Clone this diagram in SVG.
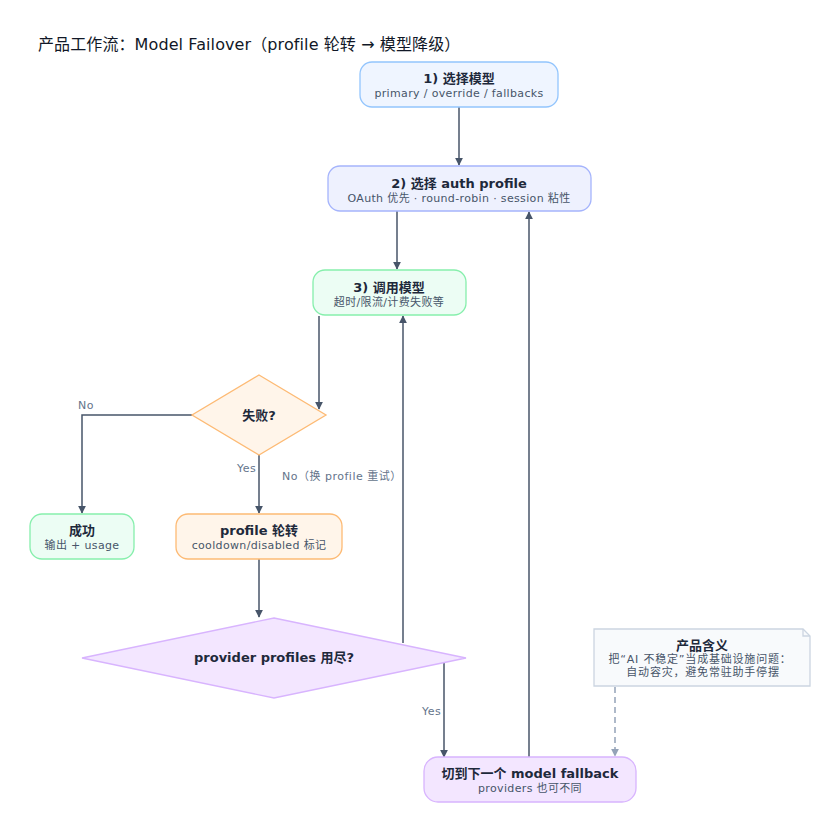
<svg xmlns="http://www.w3.org/2000/svg" width="840" height="832" viewBox="0 0 840 832">
<defs>
<style>
text{font-family:"DejaVu Sans","Noto Sans CJK SC",sans-serif;}
.t{font-size:13px;font-weight:bold;fill:#1e293b;text-anchor:middle;}
.s{font-size:11px;fill:#475569;text-anchor:middle;letter-spacing:0.35px;}
.lb{font-size:11px;fill:#64748b;letter-spacing:0.5px;}
.ns{letter-spacing:0.8px;}
.c{fill:none;stroke:#475569;stroke-width:1.5;}
.d{fill:none;stroke:#94a3b8;stroke-width:1.5;stroke-dasharray:6 4;}
.blue{fill:#eff5ff;stroke:#93c5fd;stroke-width:1.3;}
.indigo{fill:#eef1fe;stroke:#a5b4fc;stroke-width:1.3;}
.green{fill:#ecfdf4;stroke:#86efac;stroke-width:1.3;}
.orange{fill:#fff5ea;stroke:#fdba74;stroke-width:1.3;}
.purple{fill:#f3e6ff;stroke:#d8b4fe;stroke-width:1.3;}
.note{fill:#f8fafc;stroke:#cbd5e1;stroke-width:1.3;}
</style>
<marker id="a" viewBox="0 0 10 10" refX="9" refY="5" markerWidth="8" markerHeight="8" markerUnits="userSpaceOnUse" orient="auto"><path d="M0,0 L10,5 L0,10 z" fill="#475569"/></marker>
<marker id="ag" viewBox="0 0 10 10" refX="9" refY="5" markerWidth="8" markerHeight="8" markerUnits="userSpaceOnUse" orient="auto"><path d="M0,0 L10,5 L0,10 z" fill="#94a3b8"/></marker>
</defs>
<rect width="840" height="832" fill="#ffffff"/>
<text x="38" y="50" style="font-size:16px;fill:#111827;letter-spacing:0.1px">产品工作流：Model Failover（profile 轮转 → 模型降级）</text>

<g id="connectors">
<path class="c" d="M459,107 V165" marker-end="url(#a)"/>
<path class="c" d="M397,211 V269" marker-end="url(#a)"/>
<path class="c" d="M319,316 V409" marker-end="url(#a)"/>
<path class="c" d="M192,415 H82 V513" marker-end="url(#a)"/>
<text class="lb" x="78" y="409">No</text>
<path class="c" d="M259,455 V513" marker-end="url(#a)"/>
<text class="lb" x="237" y="472">Yes</text>
<path class="c" d="M403,643 V316" marker-end="url(#a)"/>
<text class="lb" x="282" y="480">No（换 profile 重试）</text>
<path class="c" d="M259,559 V617" marker-end="url(#a)"/>
<path class="c" d="M444,663 V757" marker-end="url(#a)"/>
<text class="lb" x="422" y="715">Yes</text>
<path class="c" d="M529,757 V212" marker-end="url(#a)"/>
<path class="d" d="M615,687 V756" marker-end="url(#ag)"/>
</g>

<g id="n1">
<rect class="blue" x="360" y="62" width="198" height="45" rx="12"/>
<text class="t" x="459" y="83">1) 选择模型</text>
<text class="s" x="459" y="97">primary / override / fallbacks</text>
</g>
<g id="n2">
<rect class="indigo" x="328" y="166" width="263" height="45" rx="12"/>
<text class="t" x="459" y="188">2) 选择 auth profile</text>
<text class="s" x="459" y="202">OAuth 优先 · round-robin · session 粘性</text>
</g>
<g id="n3">
<rect class="green" x="313" y="270" width="153" height="45" rx="12"/>
<text class="t" x="389" y="292">3) 调用模型</text>
<text class="s" x="389" y="306">超时/限流/计费失败等</text>
</g>
<g id="fail">
<polygon class="orange" points="259,375 326,415 259,455 192,415"/>
<text class="t" x="259" y="420">失败?</text>
</g>
<g id="ok">
<rect class="green" x="30" y="514" width="104" height="45" rx="12"/>
<text class="t" x="82" y="535">成功</text>
<text class="s" x="82" y="549">输出 + usage</text>
</g>
<g id="rotate">
<rect class="orange" x="176" y="514" width="166" height="45" rx="12"/>
<text class="t" x="259" y="535">profile 轮转</text>
<text class="s" x="259" y="549">cooldown/disabled 标记</text>
</g>
<g id="exhausted">
<polygon class="purple" points="274,618 466,658 274,698 82,658"/>
<text class="t" x="274" y="662">provider profiles 用尽?</text>
</g>
<g id="fallback">
<rect class="purple" x="424" y="757" width="212" height="45" rx="14"/>
<text class="t" x="530" y="778">切到下一个 model fallback</text>
<text class="s" x="530" y="792">providers 也可不同</text>
</g>
<g id="note">
<path class="note" d="M594,629 H803 L810,636 V686 H594 Z"/>
<path d="M803,629 V636 H810" fill="none" stroke="#cbd5e1" stroke-width="1.3"/>
<text class="t" x="702" y="650">产品含义</text>
<text class="s ns" x="700" y="663">把“AI 不稳定”当成基础设施问题：</text>
<text class="s ns" x="703" y="676">自动容灾，避免常驻助手停摆</text>
</g>
</svg>
